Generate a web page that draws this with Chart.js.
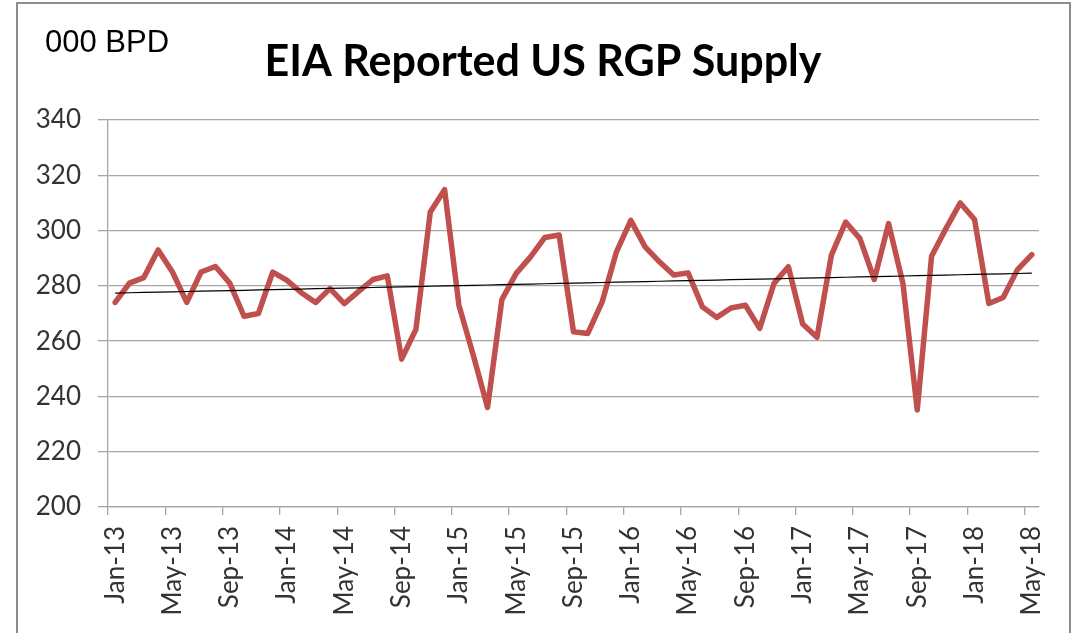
<!DOCTYPE html>
<html lang="en">
<head>
<meta charset="UTF-8">
<title>EIA Reported US RGP Supply</title>
<script src="https://cdn.jsdelivr.net/npm/chart.js"></script>
<style>
  body { margin: 0; background: #fff; }
  #wrap { position: relative; width: 1081px; height: 633px; }
</style>
</head>
<body>
<div id="wrap"><canvas id="rgpChart" width="1081" height="633"></canvas></div>
<script>
// monthly categories, Jan-13 .. May-18
const months = [
  'Jan-13','Feb-13','Mar-13','Apr-13','May-13','Jun-13','Jul-13','Aug-13','Sep-13','Oct-13','Nov-13','Dec-13',
  'Jan-14','Feb-14','Mar-14','Apr-14','May-14','Jun-14','Jul-14','Aug-14','Sep-14','Oct-14','Nov-14','Dec-14',
  'Jan-15','Feb-15','Mar-15','Apr-15','May-15','Jun-15','Jul-15','Aug-15','Sep-15','Oct-15','Nov-15','Dec-15',
  'Jan-16','Feb-16','Mar-16','Apr-16','May-16','Jun-16','Jul-16','Aug-16','Sep-16','Oct-16','Nov-16','Dec-16',
  'Jan-17','Feb-17','Mar-17','Apr-17','May-17','Jun-17','Jul-17','Aug-17','Sep-17','Oct-17','Nov-17','Dec-17',
  'Jan-18','Feb-18','Mar-18','Apr-18','May-18'
];

// RGP supply, 000 BPD
const supply = [
  274, 281, 283, 293, 285, 274, 285, 287, 281, 269, 270, 285,
  282, 277.5, 274, 279, 273.6, 278, 282.3, 283.6, 253.5, 264.3, 306.7, 314.8,
  273, 255, 236, 275, 284.5, 290.5, 297.5, 298.4, 263.4, 262.8, 274.2, 292.3,
  303.7, 294.1, 288.7, 283.9, 284.7, 272.4, 268.6, 272, 273, 264.6, 280.9, 286.9,
  266.2, 261.4, 291, 303.1, 297.1, 282.3, 302.5, 280.9, 235.1, 290.7, 300.7, 310,
  304, 273.6, 275.8, 285.9, 291.3
];

const yTicks = [200, 220, 240, 260, 280, 300, 320, 340];
const labelEvery = 4;

// linear trendline through the series
function linearTrend(vals) {
  const n = vals.length;
  let sx = 0, sy = 0, sxy = 0, sxx = 0;
  vals.forEach((v, i) => { sx += i; sy += v; sxy += i * v; sxx += i * i; });
  const slope = (n * sxy - sx * sy) / (n * sxx - sx * sx);
  const icpt = (sy - slope * sx) / n;
  return vals.map((_, i) => icpt + slope * i);
}
const trend = linearTrend(supply);

const gridGray = '#a6a6a6';
const labelFont = { family: 'Lato, "Open Sans", sans-serif', size: 26 };

const chartFrame = {
  id: 'chartFrame',
  beforeDraw(chart) {
    const ctx = chart.ctx;
    ctx.save();
    ctx.fillStyle = '#fff';
    ctx.fillRect(0, 0, chart.width, chart.height);
    ctx.strokeStyle = '#8c8c8c';
    ctx.lineWidth = 2;
    ctx.strokeRect(17, 3, 1053, 700);
    ctx.fillStyle = '#000';
    ctx.font = '31px "Liberation Sans", Arial, sans-serif';
    ctx.textAlign = 'left';
    ctx.textBaseline = 'alphabetic';
    ctx.fillText('000 BPD', 45, 52);
    ctx.font = 'bold 43px Lato, "Open Sans", sans-serif';
    ctx.textAlign = 'center';
    ctx.fillText('EIA Reported US RGP Supply', 543, 76);
    ctx.restore();
  }
};

const ctx = document.getElementById('rgpChart').getContext('2d');
new Chart(ctx, {
  type: 'line',
  data: {
    labels: months,
    datasets: [
      {
        label: 'Linear trend',
        data: trend,
        borderColor: '#000',
        borderWidth: 1.2,
        pointRadius: 0,
        order: 0
      },
      {
        label: 'US RGP Supply',
        data: supply,
        borderColor: '#c0504d',
        borderWidth: 5.5,
        borderJoinStyle: 'round',
        borderCapStyle: 'round',
        pointRadius: 0,
        tension: 0,
        order: 1
      }
    ]
  },
  options: {
    responsive: false,
    animation: false,
    layout: { padding: { left: 20, right: 42, top: 120, bottom: 0 } },
    plugins: {
      legend: { display: false },
      tooltip: { enabled: false },
      title: { display: false }
    },
    scales: {
      x: {
        offset: true,
        grid: {
          offset: true,
          drawOnChartArea: false,
          tickLength: 8,
          lineWidth: 1.3,
          color: c => (c.index % labelEvery === 0 ? gridGray : 'rgba(0,0,0,0)')
        },
        border: { color: gridGray, width: 1.3 },
        ticks: {
          autoSkip: false,
          minRotation: 90,
          maxRotation: 90,
          padding: 11,
          color: '#333',
          font: labelFont,
          callback: (v, i) => (i % labelEvery === 0 ? months[i] : '')
        },
        afterFit: s => { s.height = 126; }
      },
      y: {
        min: yTicks[0],
        max: yTicks[yTicks.length - 1],
        afterBuildTicks: s => { s.ticks = yTicks.map(v => ({ value: v })); },
        grid: { color: gridGray, lineWidth: 1.3, tickLength: 10 },
        border: { color: gridGray, width: 1.3 },
        ticks: { padding: 17, color: '#333', font: labelFont },
        afterFit: s => { s.width = 88; }
      }
    }
  },
  plugins: [chartFrame]
});
</script>
</body>
</html>
